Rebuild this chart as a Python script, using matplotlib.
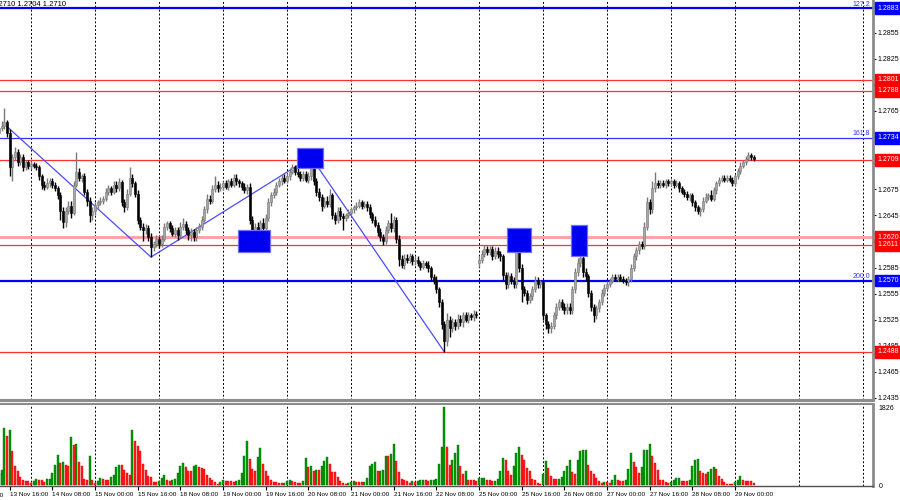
import numpy as np
import matplotlib
matplotlib.use("Agg")
import matplotlib.pyplot as plt
from matplotlib import transforms
from matplotlib.patches import Rectangle

# hourly bars, x counted in hours from 13 Nov 00:00 (weekends skipped)
first_bar = 12
first_open = 1.2740
gap_bar = 192          # 25 Nov 00:00, monday gap
gap_open = 1.2590

closes = [
    1.2745, 1.2748, 1.2752, 1.2740, 1.2700, 1.2712, 1.2718, 1.2706, 1.2712, 1.2700, 1.2706, 1.2702,  # 13 Nov
    1.2704, 1.2702, 1.2700, 1.2690, 1.2680, 1.2678, 1.2682, 1.2685, 1.2680, 1.2676, 1.2668, 1.2650,
    1.2637, 1.2650, 1.2656, 1.2648, 1.2680, 1.2695, 1.2688, 1.2690, 1.2672, 1.2662, 1.2645, 1.2650,  # 14 Nov
    1.2657, 1.2660, 1.2662, 1.2664, 1.2672, 1.2676, 1.2672, 1.2680, 1.2676, 1.2683, 1.2660, 1.2655,
    1.2670, 1.2688, 1.2682, 1.2670, 1.2640, 1.2632, 1.2628, 1.2630, 1.2620, 1.2608, 1.2612, 1.2618,  # 15 Nov
    1.2612, 1.2618, 1.2632, 1.2636, 1.2630, 1.2624, 1.2628, 1.2622, 1.2632, 1.2635, 1.2628, 1.2622,
    1.2626, 1.2620, 1.2628, 1.2632, 1.2640, 1.2652, 1.2664, 1.2662, 1.2675, 1.2680, 1.2676, 1.2678,  # 18 Nov
    1.2682, 1.2678, 1.2684, 1.2680, 1.2688, 1.2684, 1.2682, 1.2678, 1.2674, 1.2678, 1.2640, 1.2625,
    1.2632, 1.2628, 1.2636, 1.2630, 1.2642, 1.2660, 1.2668, 1.2672, 1.2680, 1.2684, 1.2688, 1.2685,  # 19 Nov
    1.2690, 1.2695, 1.2700, 1.2695, 1.2693, 1.2688, 1.2692, 1.2686, 1.2690, 1.2700, 1.2684, 1.2672,
    1.2666, 1.2656, 1.2662, 1.2658, 1.2668, 1.2645, 1.2640, 1.2650, 1.2644, 1.2642, 1.2645, 1.2648,  # 20 Nov
    1.2652, 1.2654, 1.2656, 1.2660, 1.2656, 1.2658, 1.2654, 1.2646, 1.2640, 1.2634, 1.2626, 1.2620,
    1.2616, 1.2628, 1.2636, 1.2630, 1.2640, 1.2618, 1.2595, 1.2588, 1.2596, 1.2594, 1.2598, 1.2592,  # 21 Nov
    1.2594, 1.2590, 1.2586, 1.2590, 1.2588, 1.2584, 1.2574, 1.2570, 1.2560, 1.2545, 1.2520, 1.2500,
    1.2525, 1.2515, 1.2522, 1.2518, 1.2526, 1.2522, 1.2530, 1.2525, 1.2530, 1.2528, 1.2532, 1.2530,  # 22 Nov
    1.2594, 1.2600, 1.2606, 1.2603, 1.2606, 1.2598, 1.2604, 1.2600, 1.2598, 1.2576, 1.2566, 1.2575,
    1.2570, 1.2566, 1.2605, 1.2585, 1.2560, 1.2556, 1.2548, 1.2552, 1.2560, 1.2570, 1.2566, 1.2568,  # 25 Nov
    1.2530, 1.2520, 1.2515, 1.2518, 1.2530, 1.2540, 1.2545, 1.2540, 1.2536, 1.2540, 1.2536, 1.2560,
    1.2580, 1.2590, 1.2596, 1.2580, 1.2575, 1.2556, 1.2540, 1.2530, 1.2538, 1.2545, 1.2556, 1.2562,  # 26 Nov
    1.2566, 1.2570, 1.2574, 1.2572, 1.2574, 1.2572, 1.2570, 1.2568, 1.2572, 1.2585, 1.2598, 1.2605,
    1.2612, 1.2610, 1.2632, 1.2660, 1.2652, 1.2676, 1.2682, 1.2680, 1.2682, 1.2680, 1.2684, 1.2682,  # 27 Nov
    1.2684, 1.2680, 1.2682, 1.2676, 1.2672, 1.2670, 1.2666, 1.2668, 1.2660, 1.2654, 1.2650, 1.2652,
    1.2662, 1.2666, 1.2668, 1.2664, 1.2674, 1.2682, 1.2686, 1.2688, 1.2686, 1.2688, 1.2686, 1.2682,  # 28 Nov
    1.2690, 1.2696, 1.2702, 1.2706, 1.2710, 1.2714, 1.2712, 1.2710,                                  # 29 Nov
]

# wick lengths in pips above max(open, close) and below min(open, close)
up_wick = [
    3, 5, 16, 3, 4, 3, 5, 3, 4, 3, 3, 3,
    3, 2, 3, 3, 3, 4, 6, 3, 3, 3, 3, 4, 5, 4, 6, 5, 5, 23, 4, 3, 4, 3, 4, 5,
    3, 3, 4, 3, 4, 4, 3, 5, 4, 5, 3, 4, 5, 12, 4, 3, 4, 3, 4, 5, 4, 5, 4, 4,
    3, 4, 4, 3, 3, 4, 3, 4, 5, 7, 3, 3, 4, 3, 4, 4, 4, 4, 5, 4, 5, 10, 4, 4,
    3, 4, 3, 4, 4, 4, 3, 3, 4, 3, 4, 4, 4, 5, 4, 6, 4, 5, 4, 4, 3, 4, 4, 4,
    4, 4, 4, 3, 4, 3, 4, 4, 5, 12, 3, 4, 4, 3, 4, 5, 7, 3, 4, 5, 4, 4, 3, 4,
    3, 3, 4, 4, 3, 3, 3, 4, 3, 4, 3, 4, 4, 5, 4, 12, 4, 3, 4, 4, 5, 4, 4, 3,
    4, 4, 3, 4, 3, 4, 3, 4, 5, 3, 4, 4, 8, 4, 5, 4, 5, 4, 4, 4, 4, 3, 4, 3,
    4, 5, 5, 4, 4, 4, 4, 4, 4, 3, 4, 5, 4, 4, 8, 6, 4, 4, 3, 4, 4, 5, 4, 3,
    3, 3, 4, 4, 4, 4, 4, 4, 4, 4, 4, 4, 5, 6, 20, 4, 4, 3, 3, 3, 4, 4, 4, 4,
    3, 3, 3, 3, 3, 3, 3, 3, 3, 4, 4, 4, 4, 4, 5, 6, 4, 9, 13, 4, 4, 4, 3, 3,
    3, 3, 4, 3, 3, 3, 3, 3, 3, 3, 3, 3, 4, 5, 3, 6, 4, 3, 3, 3, 3, 3, 3, 3,
    3, 3, 4, 3, 3, 4, 3, 2,
]
dn_wick = [
    4, 3, 4, 5, 10, 15, 3, 4, 3, 4, 3, 4,
    4, 3, 3, 4, 5, 4, 3, 4, 4, 3, 4, 10, 7, 5, 4, 6, 3, 3, 4, 5, 4, 6, 8, 5,
    5, 4, 3, 4, 3, 4, 4, 3, 4, 3, 4, 6, 4, 3, 4, 4, 5, 4, 12, 4, 5, 11, 4, 4,
    5, 4, 3, 4, 4, 3, 4, 5, 3, 4, 4, 5, 6, 4, 4, 3, 4, 3, 4, 4, 3, 3, 4, 3,
    4, 3, 4, 3, 3, 4, 4, 4, 3, 4, 5, 17, 4, 4, 4, 5, 4, 3, 4, 3, 4, 3, 4, 3,
    3, 4, 3, 4, 4, 3, 4, 3, 4, 4, 4, 5, 4, 6, 3, 4, 3, 4, 5, 4, 4, 14, 4, 3,
    3, 4, 3, 3, 4, 3, 4, 4, 4, 3, 5, 4, 5, 4, 3, 4, 4, 5, 8, 4, 5, 4, 4, 4,
    4, 3, 4, 3, 4, 4, 5, 4, 4, 5, 6, 12, 5, 10, 4, 5, 4, 4, 5, 3, 4, 3, 4, 3,
    4, 4, 3, 4, 4, 4, 3, 4, 5, 5, 6, 4, 4, 5, 4, 5, 15, 4, 5, 4, 4, 3, 4, 4,
    5, 6, 5, 5, 4, 4, 4, 4, 4, 4, 4, 4, 4, 5, 4, 6, 5, 5, 5, 8, 4, 4, 3, 4,
    3, 3, 3, 3, 3, 3, 3, 3, 4, 4, 4, 4, 4, 4, 4, 4, 6, 4, 4, 4, 4, 3, 4, 3,
    3, 4, 3, 4, 3, 4, 3, 4, 4, 4, 4, 6, 3, 3, 3, 3, 3, 4, 3, 3, 3, 3, 3, 3,
    3, 3, 3, 3, 3, 3, 3, 3,
]

volumes = [
    290, 370, 1340, 1150, 1280, 795, 445, 328, 187, 133, 110, 94,
    55, 110, 148, 133, 117, 78, 156, 160, 290, 484, 718, 522, 540, 484, 445, 1130, 950, 975, 540, 445, 156, 133, 694, 133,
    55, 110, 170, 150, 133, 117, 187, 250, 420, 484, 480, 367, 290, 250, 1280, 1030, 913, 796, 507, 367, 210, 187, 78, 70,
    110, 170, 250, 133, 110, 133, 140, 290, 460, 522, 420, 330, 328, 445, 484, 420, 418, 390, 250, 170, 117, 78, 31, 78,
    125, 110, 108, 94, 90, 94, 117, 290, 694, 1030, 624, 390, 343, 655, 874, 500, 330, 210, 133, 78, 76, 55, 50, 55,
    94, 133, 94, 78, 55, 50, 110, 640, 420, 460, 343, 367, 367, 445, 577, 663, 500, 312, 310, 187, 94, 55, 40, 55,
    78, 94, 80, 78, 70, 78, 170, 445, 500, 540, 343, 345, 350, 694, 680, 733, 967, 560, 312, 156, 133, 110, 55, 94,
    78, 94, 133, 135, 117, 110, 133, 135, 140, 500, 900, 1826, 900, 480, 600, 757, 950, 460, 273, 343, 133, 130, 130, 110,
    170, 172, 174, 133, 130, 94, 110, 150, 343, 640, 585, 343, 250, 445, 757, 890, 718, 600, 405, 328, 156, 133, 55, 31,
    273, 560, 405, 226, 156, 150, 156, 187, 343, 460, 600, 310, 273, 585, 810, 830, 832, 480, 343, 273, 170, 94, 55, 78,
    78, 55, 133, 234, 117, 110, 94, 133, 390, 757, 546, 420, 290, 420, 830, 832, 967, 694, 520, 367, 133, 130, 78, 55,
    78, 133, 170, 172, 110, 108, 106, 133, 460, 600, 616, 343, 290, 273, 312, 390, 420, 390, 210, 156, 78, 39, 31, 30,
    78, 117, 210, 117, 115, 110, 108, 55,
]

# horizontal levels
level_prices = [1.2883, 1.2801, 1.2788, 1.2734, 1.2709, 1.2620, 1.2611, 1.2570, 1.2488]
level_kinds = ["fibo", "res", "res", "fibo_thin", "res", "zone", "res", "fibo", "res"]
fibo_names = {1.2883: "127.2", 1.2734: "161.8", 1.2570: "200.0"}

# zigzag and blue marker boxes
zz_bars = [15, 69, 129, 179]
zz_prices = [1.2747, 1.2597, 1.2712, 1.2488]
box_bars = [(101.5, 113.5), (123.7, 133.5), (202.5, 211.5), (226.5, 232.5)]
box_prices = [(1.2603, 1.2628), (1.2699, 1.2722), (1.2603, 1.2630), (1.2598, 1.2634)]

time_labels = ["13 Nov 16:00", "14 Nov 08:00", "15 Nov 00:00", "15 Nov 16:00", "18 Nov 08:00",
               "19 Nov 00:00", "19 Nov 16:00", "20 Nov 08:00", "21 Nov 00:00", "21 Nov 16:00",
               "22 Nov 08:00", "25 Nov 00:00", "25 Nov 16:00", "26 Nov 08:00", "27 Nov 00:00",
               "27 Nov 16:00", "28 Nov 08:00", "29 Nov 00:00"]
header = "1.2710 1.2704 1.2710"

plt.rcParams["font.family"] = ["Liberation Sans", "DejaVu Sans"]
FS = 5.0
FS_X = 4.6

t = np.arange(first_bar, first_bar + len(closes))
c = np.array(closes)
o = np.concatenate([[first_open], c[:-1]])
o[gap_bar - first_bar] = gap_open
hi = np.maximum(o, c) + np.array(up_wick) * 0.0001
lo = np.minimum(o, c) - np.array(dn_wick) * 0.0001
bull = c >= o

fig = plt.figure(figsize=(9, 5), dpi=100)
ax = fig.add_axes([0, 0.2, 0.97, 0.8])
axv = fig.add_axes([0, 0.028, 0.97, 0.164])
xlim = (12.375, 339.75)

# main pane
for day in range(24, 340, 24):
    ax.axvline(day, color="black", lw=0.7, ls=(0, (2, 2)), zorder=1)
    axv.axvline(day, color="black", lw=0.7, ls=(0, (2, 2)), zorder=1)

line_style = {
    "fibo": dict(color="#0000ff", lw=1.6),
    "fibo_thin": dict(color="#3232ff", lw=0.9),
    "res": dict(color="#ff3030", lw=0.9),
    "zone": dict(color="#ffa4a4", lw=2.2),
}
tag_color = {"fibo": "#0000ff", "fibo_thin": "#0000ff", "res": "#ff0000", "zone": "#ff0000"}
trans = transforms.blended_transform_factory(ax.transAxes, ax.transData)
for p, k in zip(level_prices, level_kinds):
    ax.axhline(p, zorder=2, **line_style[k])
    ax.text(1.005, p, "%.4f" % p, transform=trans, ha="left", va="center", color="white",
            fontsize=FS, zorder=10, clip_on=False,
            bbox=dict(boxstyle="square,pad=0.35", fc=tag_color[k], ec=tag_color[k]))
    if p in fibo_names:
        ax.text(338.8, p + 0.00008, fibo_names[p], ha="right", va="bottom", color="#3232ff",
                fontsize=FS, zorder=5)

ax.plot(zz_bars, zz_prices, color="#4b4bff", lw=0.9, zorder=3)

ax.vlines(t[bull], lo[bull], hi[bull], color="#7a7a7a", lw=1.0, zorder=4)
ax.vlines(t[~bull], lo[~bull], hi[~bull], color="black", lw=1.0, zorder=4)
body_lo = np.minimum(o, c)
body_h = np.maximum(np.abs(c - o), 0.00004)
ax.bar(t[bull], body_h[bull], bottom=body_lo[bull], width=0.85, color="#a6a6a6",
       edgecolor="#7a7a7a", lw=0.4, zorder=5)
ax.bar(t[~bull], body_h[~bull], bottom=body_lo[~bull], width=0.85, color="black",
       edgecolor="black", lw=0.4, zorder=5)

for (b0, b1), (p0, p1) in zip(box_bars, box_prices):
    ax.add_patch(Rectangle((b0, p0), b1 - b0, p1 - p0, fc="#0000f0", ec="#6e6eff", lw=0.9, zorder=6))

ax.set_xlim(*xlim)
ax.set_ylim(1.24327, 1.28925)
ax.yaxis.tick_right()
ax.set_yticks(np.round(np.arange(1.2435, 1.2890, 0.0030), 4))
ax.yaxis.set_major_formatter(plt.FormatStrFormatter("%.4f"))
ax.tick_params(axis="y", labelsize=FS, length=2, width=0.8, pad=1.5, colors="black")
ax.tick_params(axis="x", bottom=False, labelbottom=False)
for s in ["left", "top"]:
    ax.spines[s].set_visible(False)
ax.spines["right"].set_color("#8c8c8c")
ax.spines["right"].set_linewidth(2)
ax.spines["bottom"].set_color("#8c8c8c")
ax.spines["bottom"].set_linewidth(2.2)

fig.text(-8 / 900, 0.998, header, ha="left", va="top", fontsize=FS + 0.5, color="black")

# volume pane
v = np.array(volumes)
rising = np.concatenate([[True], v[1:] > v[:-1]])
axv.bar(t[rising], v[rising], width=0.75, color="#009600", edgecolor="#007800", lw=0.3, zorder=3)
axv.bar(t[~rising], v[~rising], width=0.75, color="#ff1e1e", edgecolor="#e00000", lw=0.3, zorder=3)
axv.set_xlim(*xlim)
axv.set_ylim(-12, 1896)
axv.yaxis.tick_right()
axv.set_yticks([0, 1826])
axv.set_yticklabels(["0", "1826"])
axv.tick_params(axis="y", labelsize=FS, length=0, pad=4)
tick_pos = [16 * (i + 1) for i in range(len(time_labels))]
axv.set_xticks(tick_pos)
axv.set_xticklabels(time_labels, ha="left", fontsize=FS_X)
axv.tick_params(axis="x", length=3, width=0.8, pad=1, direction="out")
axv.text(13.6, -0.09, "13 Nov 00:00", transform=transforms.blended_transform_factory(axv.transData, axv.transAxes),
         ha="right", va="top", fontsize=FS_X, clip_on=False)
axv.spines["left"].set_visible(False)
axv.spines["top"].set_color("#8c8c8c")
axv.spines["top"].set_linewidth(1.5)
axv.spines["right"].set_color("#8c8c8c")
axv.spines["right"].set_linewidth(2)
axv.spines["bottom"].set_color("#505050")
axv.spines["bottom"].set_linewidth(1)

fig.savefig("out.png", dpi=100, facecolor="white")
